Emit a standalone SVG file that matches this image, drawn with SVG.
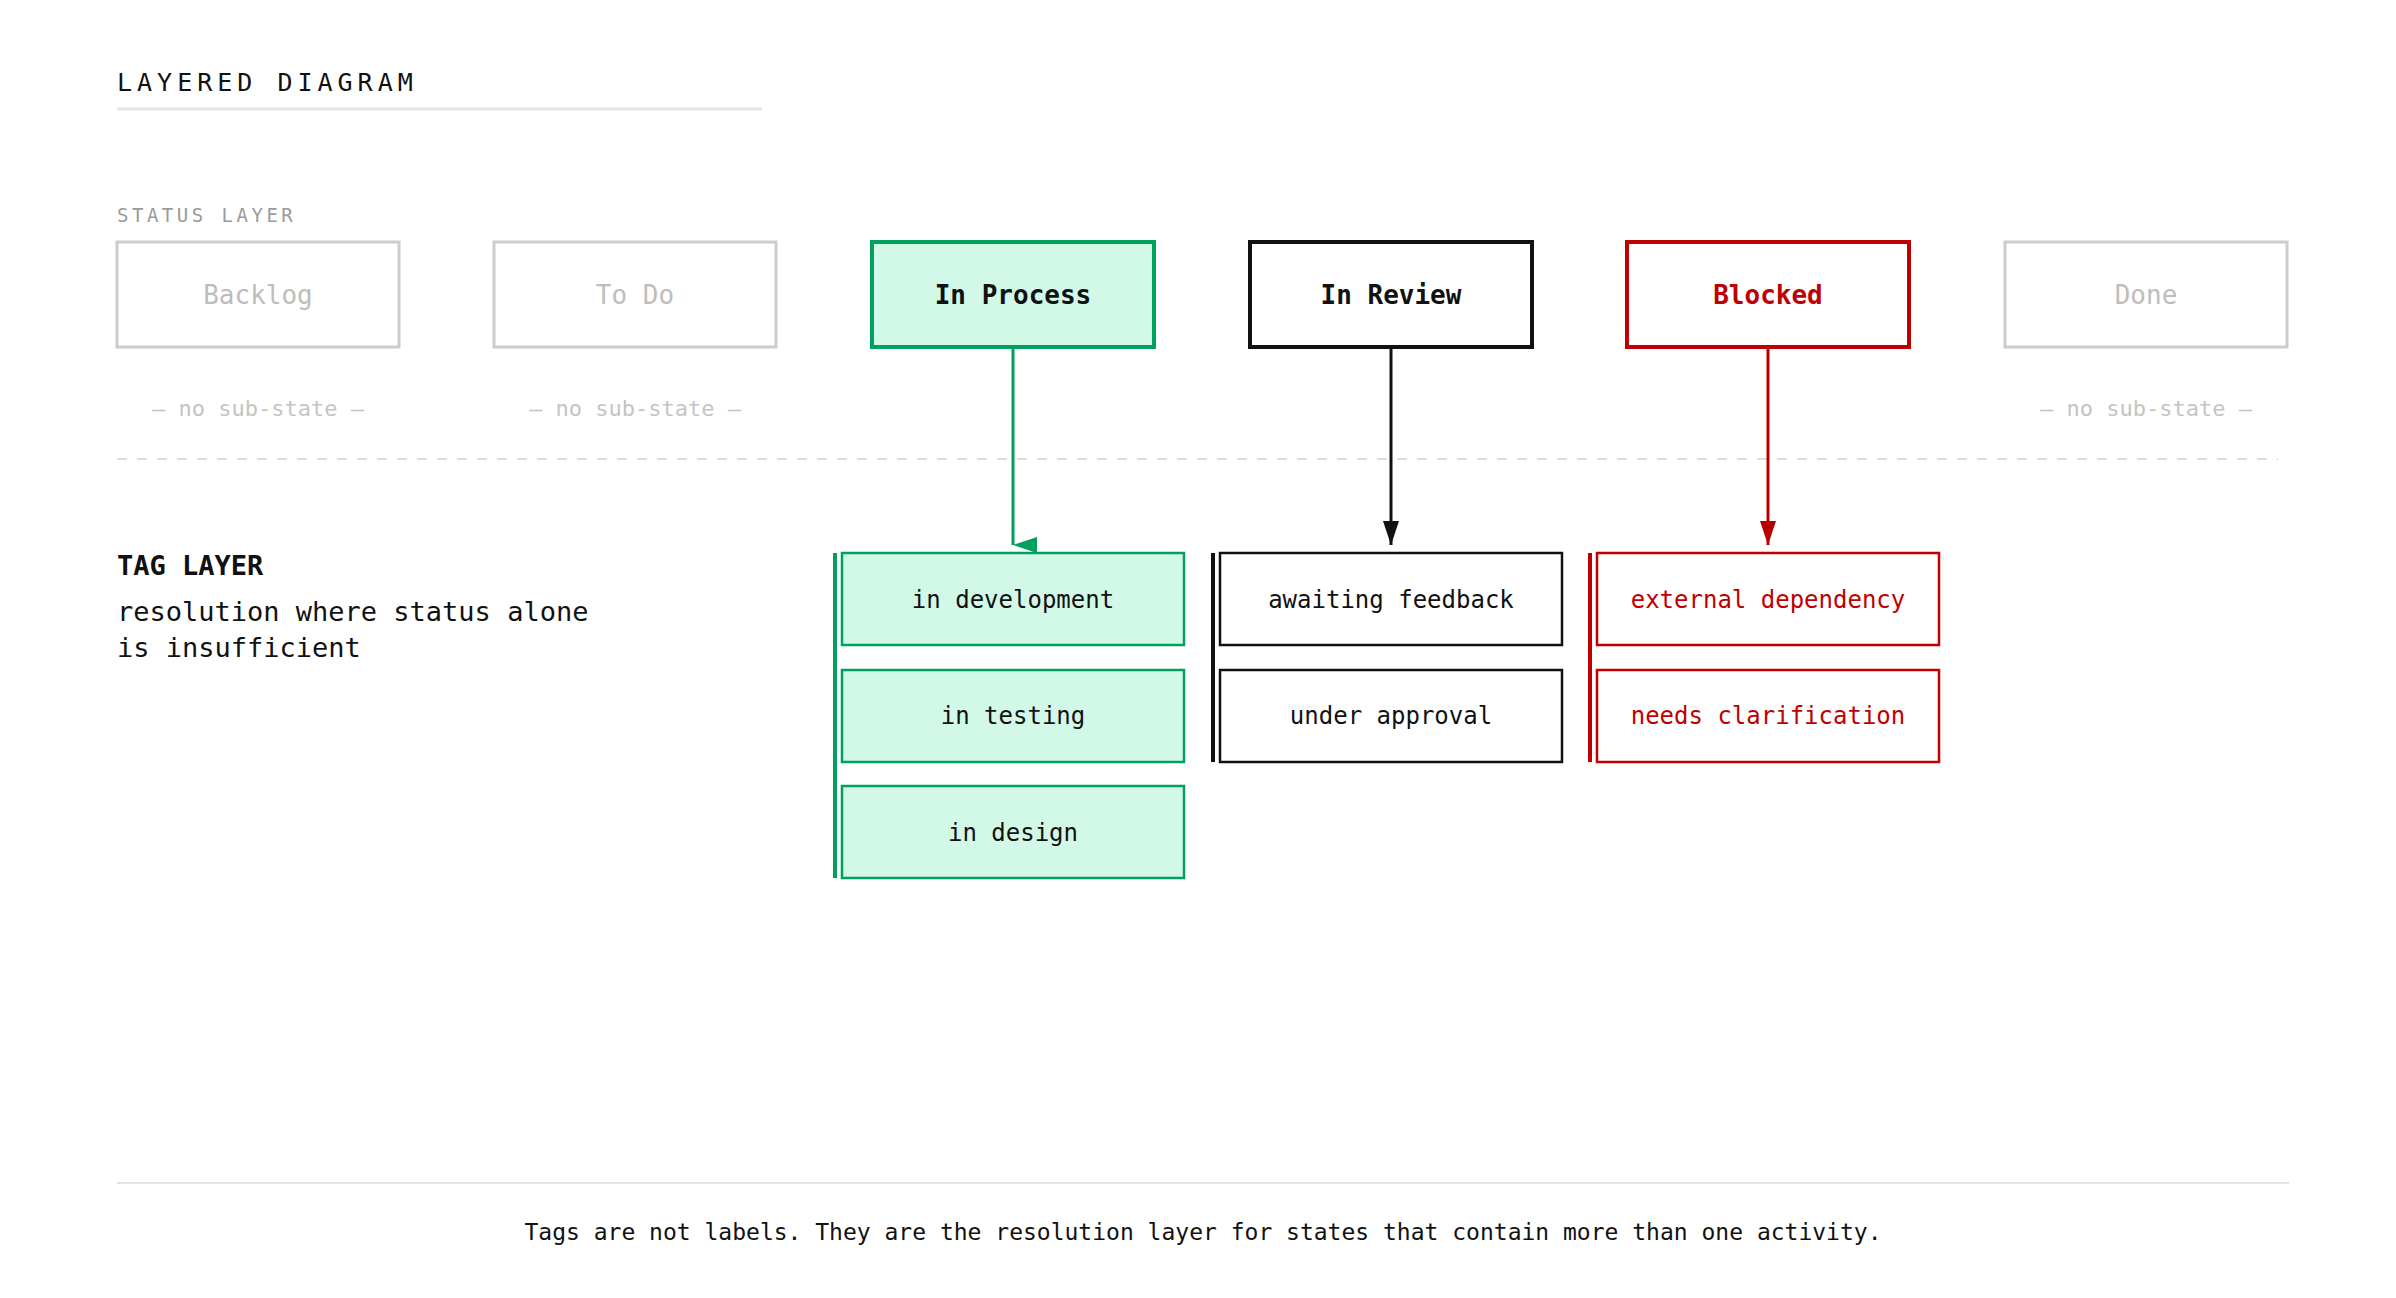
<svg xmlns="http://www.w3.org/2000/svg" width="2396" height="1298" viewBox="0 0 2396 1298">
<defs>
<style>
text{font-family:"DejaVu Sans Mono","Liberation Mono",monospace;}
.st{font-size:26px;text-anchor:middle}
.tg{font-size:24px;text-anchor:middle}
.g{fill:#d2f8e7;stroke:#00a05e;}
.gray{fill:#fff;stroke:#cccccc;stroke-width:3}
.ns{font-size:22px;fill:#c4c4c4;text-anchor:middle}
</style>
<marker id="ag" viewBox="0 0 16 24" markerWidth="16" markerHeight="24" refX="8" refY="24" orient="auto-start-reverse" markerUnits="userSpaceOnUse"><path d="M0,0L16,0L8,24Z" fill="#00a05e"/></marker>
<marker id="ak" viewBox="0 0 16 24" markerWidth="16" markerHeight="24" refX="8" refY="24" markerUnits="userSpaceOnUse"><path d="M0,0L16,0L8,24Z" fill="#111"/></marker>
<marker id="ar" viewBox="0 0 16 24" markerWidth="16" markerHeight="24" refX="8" refY="24" markerUnits="userSpaceOnUse"><path d="M0,0L16,0L8,24Z" fill="#b80000"/></marker>
</defs>
<rect width="2396" height="1298" fill="#fff"/>
<text x="117" y="91" font-size="25" letter-spacing="5" fill="#111">LAYERED DIAGRAM</text>
<line x1="117" y1="109" x2="762" y2="109" stroke="#e6e6e6" stroke-width="3"/>
<text x="117" y="222" font-size="19" letter-spacing="3.5" fill="#9a9a9a">STATUS LAYER</text>

<g id="backlog"><rect class="gray" x="117" y="242" width="282" height="105"/><text class="st" x="258" y="304" fill="#bdbdbd">Backlog</text><text class="ns" x="258" y="416">— no sub-state —</text></g>
<g id="todo"><rect class="gray" x="494" y="242" width="282" height="105"/><text class="st" x="635" y="304" fill="#bdbdbd">To Do</text><text class="ns" x="635" y="416">— no sub-state —</text></g>
<g id="inprocess"><rect class="g" stroke-width="4" x="872" y="242" width="282" height="105"/><text class="st" x="1013" y="304" fill="#111" font-weight="bold">In Process</text></g>
<g id="inreview"><rect fill="#fff" stroke="#111" stroke-width="4" x="1250" y="242" width="282" height="105"/><text class="st" x="1391" y="304" fill="#111" font-weight="bold">In Review</text></g>
<g id="blocked"><rect fill="#fff" stroke="#c00000" stroke-width="4" x="1627" y="242" width="282" height="105"/><text class="st" x="1768" y="304" fill="#c00000" font-weight="bold">Blocked</text></g>
<g id="done"><rect class="gray" x="2005" y="242" width="282" height="105"/><text class="st" x="2146" y="304" fill="#bdbdbd">Done</text><text class="ns" x="2146" y="416">— no sub-state —</text></g>

<line x1="117" y1="459" x2="2278" y2="459" stroke="#dddddd" stroke-width="2" stroke-dasharray="10 10"/>

<g id="taglayer"><text x="117" y="575" font-size="27" font-weight="bold" fill="#111">TAG LAYER</text>
<text x="117" y="621" font-size="27" fill="#111">resolution where status alone</text>
<text x="117" y="657" font-size="27" fill="#111">is insufficient</text></g>

<g id="connectors">
<line x1="1013" y1="347" x2="1013" y2="545" stroke="#00a05e" stroke-width="3" marker-end="url(#ag)"/>
<line x1="1391" y1="347" x2="1391" y2="545" stroke="#111" stroke-width="3" marker-end="url(#ak)"/>
<line x1="1768" y1="347" x2="1768" y2="545" stroke="#b80000" stroke-width="3" marker-end="url(#ar)"/>
</g>

<g id="green-tags">
<line x1="835" y1="553" x2="835" y2="878" stroke="#00a05e" stroke-width="4"/>
<rect class="g" stroke-width="2.5" x="842" y="553" width="342" height="92"/><text class="tg" x="1013" y="608" fill="#111">in development</text>
<rect class="g" stroke-width="2.5" x="842" y="670" width="342" height="92"/><text class="tg" x="1013" y="724" fill="#111">in testing</text>
<rect class="g" stroke-width="2.5" x="842" y="786" width="342" height="92"/><text class="tg" x="1013" y="841" fill="#111">in design</text>
</g>
<g id="review-tags">
<line x1="1213" y1="553" x2="1213" y2="762" stroke="#111" stroke-width="4"/>
<rect fill="#fff" stroke="#111" stroke-width="2.5" x="1220" y="553" width="342" height="92"/><text class="tg" x="1391" y="608" fill="#111">awaiting feedback</text>
<rect fill="#fff" stroke="#111" stroke-width="2.5" x="1220" y="670" width="342" height="92"/><text class="tg" x="1391" y="724" fill="#111">under approval</text>
</g>
<g id="blocked-tags">
<line x1="1590" y1="553" x2="1590" y2="762" stroke="#c00000" stroke-width="4"/>
<rect fill="#fff" stroke="#c00000" stroke-width="2.5" x="1597" y="553" width="342" height="92"/><text class="tg" x="1768" y="608" fill="#c00000">external dependency</text>
<rect fill="#fff" stroke="#c00000" stroke-width="2.5" x="1597" y="670" width="342" height="92"/><text class="tg" x="1768" y="724" fill="#c00000">needs clarification</text>
</g>

<line x1="117" y1="1183" x2="2289" y2="1183" stroke="#e3e3e3" stroke-width="2"/>
<text x="1203" y="1240" font-size="23" text-anchor="middle" fill="#111">Tags are not labels. They are the resolution layer for states that contain more than one activity.</text>
</svg>
